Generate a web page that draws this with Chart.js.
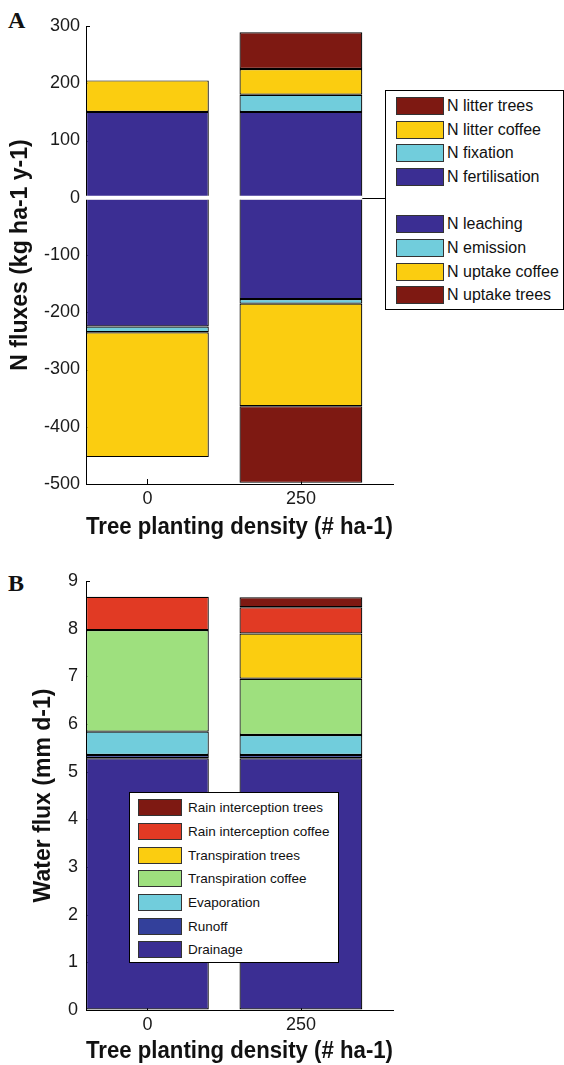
<!DOCTYPE html>
<html>
<head>
<meta charset="utf-8">
<script src="https://cdn.jsdelivr.net/npm/chart.js@4.4.1/dist/chart.umd.min.js"></script>
<style>
  body { margin: 0; width: 564px; height: 1065px; position: relative; background: #fff; overflow: hidden;
         font-family: "Liberation Sans", Arial, sans-serif; color: #111; }
  canvas { position: absolute; left: 0; }
  #chartA { top: 0; }
  #chartB { top: 545px; }
  .tag { position: absolute; left: 8px; font: bold 24px/24px "Liberation Serif", "Times New Roman", serif; }
  .legend { position: absolute; background: #fff; border: 1px solid #000; box-sizing: border-box; z-index: 2; }
  .legend .row { display: flex; align-items: center; white-space: nowrap; }
  .legend .sw { box-sizing: border-box; border: 1px solid #333; flex: none; }
</style>
</head>
<body>
<div class="tag" style="top:8px">A</div>
<div class="tag" style="top:571px">B</div>
<canvas id="chartA" width="564" height="545"></canvas>
<canvas id="chartB" width="564" height="520"></canvas>
<div id="legendA" class="legend" style="left:385px; top:90px; width:179px; height:220px; padding-top:3px; font-size:16px;"></div>
<div id="legendB" class="legend" style="left:129px; top:792px; width:210px; height:171px; padding-top:3px; font-size:13.5px;"></div>

<script>
// tree planting density (# ha-1)
const categories = ['0', '250'];

// panel A: N fluxes (kg ha-1 y-1), inputs up, losses down
const nFertilisation = [150, 150];
const nFixation = [null, 30];
const nLitterCoffee = [55, 45];
const nLitterTrees = [null, 64];
const nLeaching = [-225, -177];
const nEmission = [-10, -8];
const nUptakeCoffee = [-218, -179];
const nUptakeTrees = [null, -134];

// panel B: water flux (mm d-1)
const drainage = [5.28, 5.28];
const runoff = [0.07, 0.07];
const evaporation = [0.49, 0.42];
const transpCoffee = [2.13, 1.18];
const transpTrees = [null, 0.95];
const rainIntCoffee = [0.70, 0.55];
const rainIntTrees = [null, 0.21];

const C_DARKRED = '#7e1912';
const C_YELLOW = '#fbcd10';
const C_CYAN = '#71cddc';
const C_INDIGO = '#3b2e93';
const C_BLUE = '#33409b';
const C_RED = '#e13a24';
const C_GREEN = '#9ee07e';

Chart.defaults.font.family = '"Liberation Sans", Arial, sans-serif';
Chart.defaults.color = '#1a1a1a';

function makeSet(label, values, color) {
    return {
        label: label,
        data: values.map((v, i) => ({ x: i + 1, y: v })),
        backgroundColor: color,
        borderColor: '#000',
        borderWidth: 1.2,
        borderSkipped: false,
        inflateAmount: 0,
        barPercentage: 0.8,
        categoryPercentage: 1
    };
}

// matlab style ticks pointing into the plot, drawn under the bars
const inwardTicks = {
    id: 'inwardTicks',
    beforeDatasetsDraw(chart) {
        const { ctx, scales: { x, y } } = chart;
        ctx.save();
        ctx.strokeStyle = '#000';
        ctx.lineWidth = 1;
        ctx.beginPath();
        y.ticks.forEach(t => {
            const py = Math.round(y.getPixelForValue(t.value)) + 0.5;
            ctx.moveTo(x.left, py);
            ctx.lineTo(x.left + 4, py);
        });
        x.ticks.forEach(t => {
            const px = Math.round(x.getPixelForValue(t.value)) + 0.5;
            ctx.moveTo(px, y.bottom);
            ctx.lineTo(px, y.bottom - 5);
        });
        ctx.stroke();
        ctx.restore();
    }
};

// white gap at zero across the bars, black baseline right of them
const zeroLine = {
    id: 'zeroLine',
    afterDatasetsDraw(chart) {
        const { ctx, chartArea, scales: { y } } = chart;
        const y0 = y.getPixelForValue(0);
        const bar = chart.getDatasetMeta(0).data[categories.length - 1];
        const barRight = bar.x + bar.width / 2;
        ctx.save();
        ctx.strokeStyle = '#fff';
        ctx.lineWidth = 4;
        ctx.beginPath();
        ctx.moveTo(chartArea.left, y0);
        ctx.lineTo(barRight, y0);
        ctx.stroke();
        ctx.strokeStyle = '#000';
        ctx.lineWidth = 1;
        ctx.beginPath();
        ctx.moveTo(barRight, Math.round(y0) + 0.5);
        ctx.lineTo(chartArea.right, Math.round(y0) + 0.5);
        ctx.stroke();
        ctx.restore();
    }
};

function xScale(height, titlePad) {
    return {
        type: 'linear',
        stacked: true,
        bounds: 'data',
        offset: false,
        min: 0.6,
        max: 2.6,
        afterBuildTicks(s) { s.ticks = categories.map((c, i) => ({ value: i + 1 })); },
        ticks: { callback: (v) => categories[v - 1], padding: 4, font: { size: 18 }, maxRotation: 0, autoSkip: false },
        grid: { drawOnChartArea: false, drawTicks: false, offset: false },
        border: { color: '#000', width: 1 },
        title: { display: true, text: 'Tree planting density (# ha-1)', color: '#111',
                 font: { size: 23, weight: 'bold' }, padding: { top: 0, bottom: titlePad } },
        afterFit(s) { s.height = height; }
    };
}

function yScale(min, max, step, title, titlePad, tickPad) {
    return {
        stacked: true,
        min: min,
        max: max,
        ticks: { stepSize: step, padding: tickPad, font: { size: 18 } },
        grid: { drawOnChartArea: false, drawTicks: false },
        border: { color: '#000', width: 1 },
        title: { display: true, text: title, color: '#111',
                 font: { size: 23, weight: 'bold' }, padding: { top: titlePad, bottom: 0 } },
        afterFit(s) { s.width = 86; }
    };
}

const nInputs = [
    ['N fertilisation', nFertilisation, C_INDIGO],
    ['N fixation', nFixation, C_CYAN],
    ['N litter coffee', nLitterCoffee, C_YELLOW],
    ['N litter trees', nLitterTrees, C_DARKRED]
];
const nLosses = [
    ['N leaching', nLeaching, C_INDIGO],
    ['N emission', nEmission, C_CYAN],
    ['N uptake coffee', nUptakeCoffee, C_YELLOW],
    ['N uptake trees', nUptakeTrees, C_DARKRED]
];
const water = [
    ['Drainage', drainage, C_INDIGO],
    ['Runoff', runoff, C_BLUE],
    ['Evaporation', evaporation, C_CYAN],
    ['Transpiration coffee', transpCoffee, C_GREEN],
    ['Transpiration trees', transpTrees, C_YELLOW],
    ['Rain interception coffee', rainIntCoffee, C_RED],
    ['Rain interception trees', rainIntTrees, C_DARKRED]
];

const chartA = new Chart(document.getElementById('chartA'), {
    type: 'bar',
    data: { datasets: nInputs.concat(nLosses).map(s => makeSet(s[0], s[1], s[2])) },
    options: {
        responsive: false,
        animation: false,
        layout: { padding: { top: 26, right: 171, bottom: 0, left: 0 } },
        plugins: { legend: { display: false }, tooltip: { enabled: false } },
        scales: {
            x: xScale(61, 4),
            y: yScale(-500, 300, 100, 'N fluxes (kg ha-1 y-1)', 7, 6)
        }
    },
    plugins: [inwardTicks, zeroLine]
});

const chartB = new Chart(document.getElementById('chartB'), {
    type: 'bar',
    data: { datasets: water.map(s => makeSet(s[0], s[1], s[2])) },
    options: {
        responsive: false,
        animation: false,
        layout: { padding: { top: 36, right: 171, bottom: 0, left: 0 } },
        plugins: { legend: { display: false }, tooltip: { enabled: false } },
        scales: {
            x: xScale(55, 0),
            y: yScale(0, 9, 1, 'Water flux (mm d-1)', 30, 8)
        }
    },
    plugins: [inwardTicks]
});

function buildLegend(id, items, rowH, swLeft, swW, swH, gap) {
    const el = document.getElementById(id);
    items.forEach(it => {
        const row = document.createElement('div');
        row.className = 'row';
        row.style.height = rowH + 'px';
        if (it) {
            const sw = document.createElement('div');
            sw.className = 'sw';
            sw.style.cssText = `width:${swW}px;height:${swH}px;margin-left:${swLeft}px;margin-right:${gap}px;background:${it[2]}`;
            const txt = document.createElement('span');
            txt.textContent = it[0];
            row.appendChild(sw);
            row.appendChild(txt);
        }
        el.appendChild(row);
    });
}

buildLegend('legendA', nInputs.slice().reverse().concat([null], nLosses), 23.7, 10, 48, 18, 3);
buildLegend('legendB', water.slice().reverse(), 23.7, 8, 44, 17, 6);
</script>
</body>
</html>
